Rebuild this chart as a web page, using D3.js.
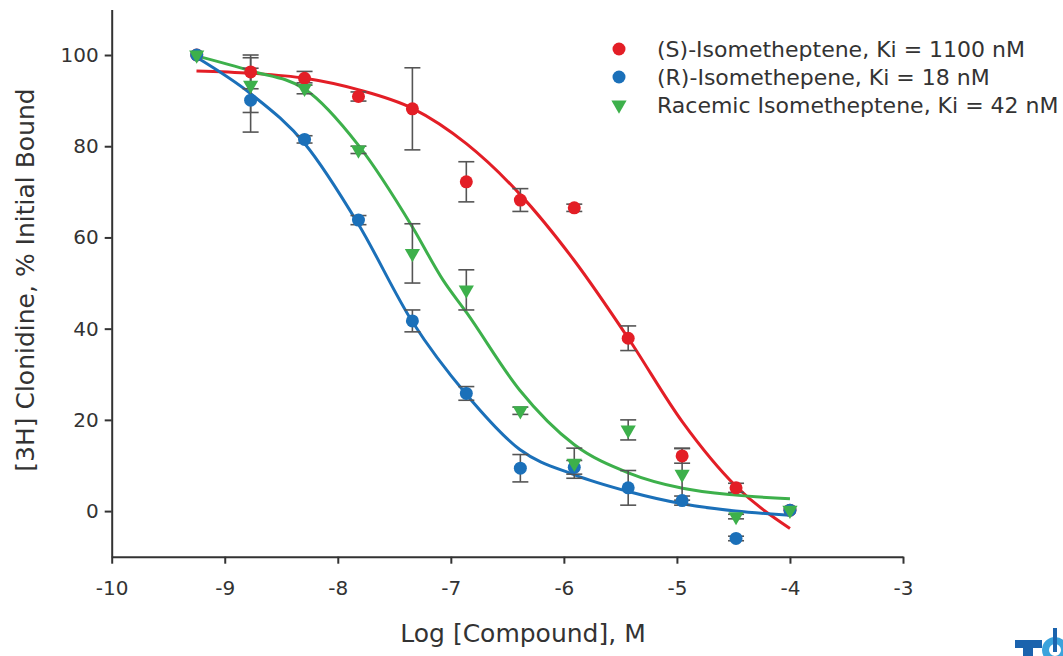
<!DOCTYPE html>
<html>
<head>
<meta charset="utf-8">
<script src="https://cdn.jsdelivr.net/npm/d3@7"></script>
<style>
  body { margin: 0; background: #fff; }
  svg { display: block; }
  .axis text { font-family: "DejaVu Sans", Verdana, sans-serif; font-size: 20px; fill: #333; }
  .axis path, .axis line { stroke: #333; stroke-width: 2px; }
  .title { font-family: "DejaVu Sans", Verdana, sans-serif; fill: #333; }
  .legend text { font-family: "DejaVu Sans", Verdana, sans-serif; font-size: 22px; fill: #333; }
</style>
</head>
<body>
<div id="chart"></div>
<script>
/*******************
 * DATA
 *******************/

// log [compound], M  (3-fold dilution series)
var logConc = [-9.248, -8.771, -8.294, -7.817, -7.340, -6.863, -6.385, -5.908, -5.431, -4.954, -4.477, -4.0];

var sIsoMean = [100, 96.3, 94.9, 90.9, 88.2, 72.2, 68.2, 66.5, 37.9, 12.1, 5.1, 0.2];
var sIsoErr  = [0, 3.7, 1.5, 1.0, 9.0, 4.4, 2.5, 0.8, 2.7, 1.6, 1.0, 0];

var rIsoMean = [100, 90.1, 81.5, 63.8, 41.7, 25.8, 9.4, 9.6, 5.1, 2.3, -6.0, 0.2];
var rIsoErr  = [0, 7.0, 0.8, 1.0, 2.4, 1.5, 3.0, 1.5, 3.8, 1.0, 0.5, 0];

var racMean = [100, 93.4, 92.7, 79.2, 56.5, 48.5, 22.0, 10.5, 17.8, 8.1, -1.2, 0.2];
var racErr  = [0, 6.0, 1.2, 0.8, 6.5, 4.4, 0.8, 3.3, 2.2, 5.7, 0.5, 0];

// fitted curves
var sFitX = [-9.25, -8.77, -8.29, -7.82, -7.34, -6.86, -6.39, -5.91, -5.43, -4.95, -4.48, -4.0];
var sFitY = [96.5, 96.0, 94.9, 92.4, 88.3, 80.5, 69.5, 55.0, 37.9, 19.5, 5.5, -3.8];

var rFitX = [-9.25, -8.77, -8.29, -7.82, -7.34, -6.86, -6.39, -5.91, -5.43, -4.95, -4.48, -4.0];
var rFitY = [99.5, 91.5, 80.5, 63.0, 41.5, 25.5, 13.5, 8.0, 4.3, 1.6, 0.0, -0.9];

var racFitX = [-9.25, -8.77, -8.29, -7.82, -7.34, -7.07, -6.86, -6.39, -5.91, -5.43, -4.95, -4.48, -4.0];
var racFitY = [99.8, 96.5, 92.5, 80.3, 62.3, 50.7, 43.5, 26.5, 14.6, 8.4, 5.0, 3.5, 2.7];

var legendLabels = [
  "(S)-Isometheptene, Ki = 1100 nM",
  "(R)-Isomethepene, Ki = 18 nM",
  "Racemic Isometheptene, Ki = 42 nM"
];

var xTicks = [-10, -9, -8, -7, -6, -5, -4, -3];
var yTicks = [0, 20, 40, 60, 80, 100];

/*******************
 * SETUP
 *******************/

var W = 1063, H = 656;
var COLOR = { S: '#e31e26', R: '#1b70b9', RAC: '#3db04b' };

var series = [
  { key: 'S',   mean: sIsoMean, err: sIsoErr, fx: sFitX,   fy: sFitY,   shape: 'circle',   label: legendLabels[0] },
  { key: 'R',   mean: rIsoMean, err: rIsoErr, fx: rFitX,   fy: rFitY,   shape: 'circle',   label: legendLabels[1] },
  { key: 'RAC', mean: racMean,  err: racErr,  fx: racFitX, fy: racFitY, shape: 'triangle', label: legendLabels[2] }
];

var svg = d3.select("#chart").append("svg").attr("width", W).attr("height", H);

var x = d3.scaleLinear().domain([-10, -3]).range([111.7, 903]);
var y = d3.scaleLinear().domain([-10, 110]).range([556.7, 9.4]);

// plain hyphen, no decimals: "-10", "-9" ...
var plain = function (d) { return String(d); };

// axes
svg.append("g")
  .attr("class", "axis")
  .attr("transform", "translate(0," + y(-10) + ")")
  .call(d3.axisBottom(x).tickValues(xTicks).tickFormat(plain)
    .tickSize(7).tickSizeOuter(0).tickPadding(17));

svg.append("g")
  .attr("class", "axis")
  .attr("transform", "translate(" + x(-10) + ",0)")
  .call(d3.axisLeft(y).tickValues(yTicks).tickFormat(plain)
    .tickSize(7).tickSizeOuter(0).tickPadding(6));

svg.selectAll(".axis .tick line").attr("stroke-width", 1.5);

// axis titles
svg.append("text")
  .attr("class", "title")
  .attr("x", 523)
  .attr("y", 642)
  .attr("text-anchor", "middle")
  .style("font-size", "25px")
  .text("Log [Compound], M");

svg.append("text")
  .attr("class", "title")
  .attr("transform", "translate(34,280) rotate(-90)")
  .attr("text-anchor", "middle")
  .style("font-size", "25px")
  .text("[3H] Clonidine, % Initial Bound");

/*******************
 * CURVES
 *******************/

var line = d3.line()
  .x(function (d) { return x(d[0]); })
  .y(function (d) { return y(d[1]); })
  .curve(d3.curveMonotoneX);

series.forEach(function (s) {
  svg.append("path")
    .datum(d3.zip(s.fx, s.fy))
    .attr("d", line)
    .attr("fill", "none")
    .attr("stroke", COLOR[s.key])
    .attr("stroke-width", 3);
});

/*******************
 * ERROR BARS
 *******************/

var capW = 8;
series.forEach(function (s) {
  var g = svg.append("g").attr("stroke", "#555").attr("stroke-width", 1.6);
  logConc.forEach(function (lc, i) {
    if (!s.err[i]) return;
    var cx = x(lc), y0 = y(s.mean[i] - s.err[i]), y1 = y(s.mean[i] + s.err[i]);
    g.append("line").attr("x1", cx).attr("x2", cx).attr("y1", y0).attr("y2", y1);
    g.append("line").attr("x1", cx - capW).attr("x2", cx + capW).attr("y1", y0).attr("y2", y0);
    g.append("line").attr("x1", cx - capW).attr("x2", cx + capW).attr("y1", y1).attr("y2", y1);
  });
});

/*******************
 * POINTS
 *******************/

var tri = d3.symbol().type(d3.symbolTriangle).size(100);

function drawMarker(g, shape, cx, cy, color) {
  if (shape === 'circle') {
    g.append("circle").attr("cx", cx).attr("cy", cy).attr("r", 6.5).attr("fill", color);
  } else {
    g.append("path").attr("d", tri())
      .attr("transform", "translate(" + cx + "," + cy + ") rotate(180)")
      .attr("fill", color);
  }
}

series.forEach(function (s) {
  var g = svg.append("g");
  logConc.forEach(function (lc, i) {
    drawMarker(g, s.shape, x(lc), y(s.mean[i]), COLOR[s.key]);
  });
});

/*******************
 * LEGEND
 *******************/

var legend = svg.append("g").attr("class", "legend");
series.forEach(function (s, i) {
  var ly = 49 + i * 28;
  drawMarker(legend, s.shape, 619, ly, COLOR[s.key]);
  legend.append("text")
    .attr("x", 657)
    .attr("y", ly)
    .attr("dy", "0.36em")
    .text(s.label);
});

// logo fragment, bottom right corner
var logo = svg.append("g");
logo.append("rect").attr("x", 1015).attr("y", 640).attr("width", 27).attr("height", 8).attr("fill", "#1b63ad");
logo.append("rect").attr("x", 1023).attr("y", 640).attr("width", 10).attr("height", 16).attr("fill", "#1b63ad");
logo.append("circle").attr("cx", 1055).attr("cy", 650).attr("r", 9.5)
  .attr("fill", "none").attr("stroke", "#3ba3dc").attr("stroke-width", 7);
logo.append("rect").attr("x", 1053).attr("y", 628).attr("width", 4).attr("height", 24).attr("fill", "#1b63ad");
</script>
</body>
</html>
